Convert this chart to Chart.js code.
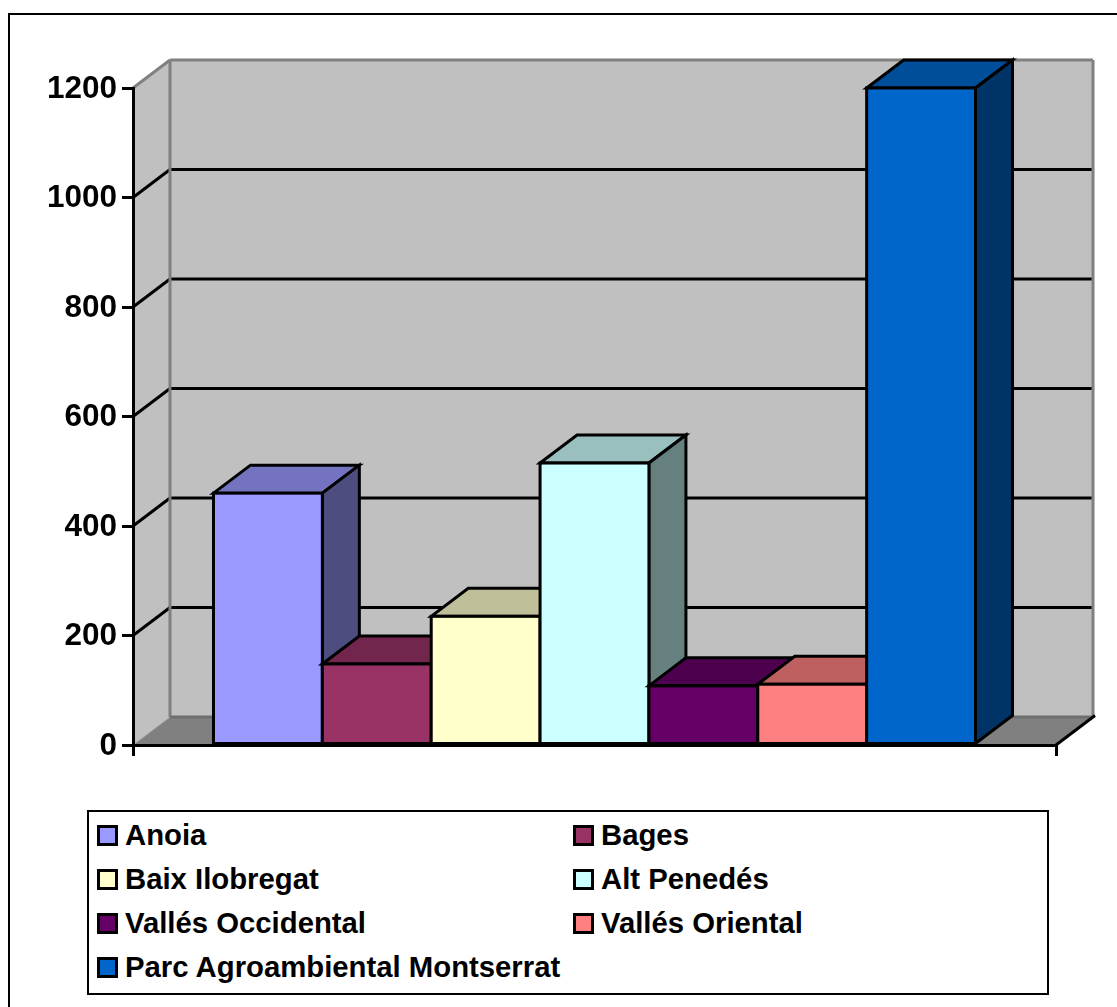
<!DOCTYPE html>
<html>
<head>
<meta charset="utf-8">
<title>Chart</title>
<script src="https://cdn.jsdelivr.net/npm/chart.js@4"></script>
<style>
    html, body { margin: 0; padding: 0; background: #fff; overflow: hidden; }
    #wrap { position: relative; width: 1117px; height: 1007px; font-family: "Liberation Sans", Arial, sans-serif; }
    #wrap canvas { position: absolute; left: 0; top: 0; }
    #frame { position: absolute; left: 8px; top: 13px; right: 0; bottom: 0; border-left: 2px solid #000; border-top: 2px solid #000; }
    #legend { position: absolute; left: 87px; top: 810px; width: 958px; height: 181px; border: 2.5px solid #000; background: #fff; }
    .item { position: absolute; display: flex; align-items: center; height: 44px; font-weight: bold; font-size: 29.3px; color: #000; white-space: nowrap; }
    .swatch { display: inline-block; box-sizing: border-box; width: 21px; height: 21px; border: 3px solid #000; margin-right: 7px; }
</style>
</head>
<body>
<div id="wrap">
    <div id="frame"></div>
    <canvas id="chart" width="1117" height="1007"></canvas>
    <div id="legend"></div>
</div>
<script>
const names = ['Anoia', 'Bages', 'Baix Ilobregat', 'Alt Penedés', 'Vallés Occidental', 'Vallés Oriental', 'Parc Agroambiental Montserrat'];
const values = [460, 148, 235, 515, 108, 111, 1200];
const colors = ['#9999FF', '#993366', '#FFFFCC', '#CCFFFF', '#660066', '#FF8080', '#0066CC'];

// depth of the fake 3D box, in pixels
const DX = 37;
const DY = 28;
const LINE = 3;

function shade(hex, f) {
    const n = parseInt(hex.slice(1), 16);
    const r = Math.round((n >> 16) * f);
    const g = Math.round(((n >> 8) & 255) * f);
    const b = Math.round((n & 255) * f);
    return `rgb(${r},${g},${b})`;
}

function poly(ctx, pts, fill, stroke, width) {
    ctx.beginPath();
    pts.forEach((p, i) => (i ? ctx.lineTo(p[0], p[1]) : ctx.moveTo(p[0], p[1])));
    ctx.closePath();
    if (fill) {
        ctx.fillStyle = fill;
        ctx.fill();
    }
    if (stroke) {
        ctx.strokeStyle = stroke;
        ctx.lineWidth = width;
        ctx.stroke();
    }
}

function line(ctx, x1, y1, x2, y2, color, width) {
    ctx.beginPath();
    ctx.moveTo(x1, y1);
    ctx.lineTo(x2, y2);
    ctx.strokeStyle = color;
    ctx.lineWidth = width;
    ctx.stroke();
}

const box3d = {
    id: 'box3d',
    // walls go under the axes
    beforeDraw(chart) {
        const ctx = chart.ctx;
        const { left, right, top, bottom } = chart.chartArea;
        const y = chart.scales.y;
        ctx.save();
        poly(ctx, [[left, top], [left + DX, top - DY], [left + DX, bottom - DY], [left, bottom]], '#C0C0C0');
        poly(ctx, [[left + DX, top - DY], [right + DX, top - DY], [right + DX, bottom - DY], [left + DX, bottom - DY]], '#C0C0C0');
        poly(ctx, [[left, bottom], [left + DX, bottom - DY], [right + DX, bottom - DY], [right, bottom]], '#808080');

        y.ticks.forEach(t => {
            const py = y.getPixelForValue(t.value);
            if (t.value === 0 || t.value === y.max) return;
            line(ctx, left, py, left + DX, py - DY, '#000', LINE);
            line(ctx, left + DX, py - DY, right + DX, py - DY, '#000', LINE);
        });

        line(ctx, left, top, left + DX, top - DY, '#808080', LINE);
        line(ctx, left + DX, top - DY, right + DX, top - DY, '#808080', LINE);
        line(ctx, left + DX, top - DY, left + DX, bottom - DY, '#808080', 3);
        line(ctx, right + DX, top - DY, right + DX, bottom - DY, '#808080', LINE);
        line(ctx, left + DX, bottom - DY, right + DX, bottom - DY, '#6E6E6E', LINE);
        line(ctx, left, bottom, left + DX, bottom - DY, '#A6A6A6', 1);
        line(ctx, right, bottom, right + DX + 2, bottom - DY - 1.5, '#000', LINE);
        ctx.restore();
    },
    // bars overlap each other, so paint them left to right instead of the default order
    beforeDatasetsDraw(chart) {
        const ctx = chart.ctx;
        ctx.save();
        ctx.lineJoin = 'miter';
        chart.getSortedVisibleDatasetMetas().forEach(meta => {
            const bar = meta.data[0];
            const color = colors[meta.index];
            const x1 = bar.x - bar.width / 2;
            const x2 = bar.x + bar.width / 2;
            const yTop = bar.y;
            const yBase = bar.base;
            poly(ctx, [[x1, yTop], [x1 + DX, yTop - DY], [x2 + DX, yTop - DY], [x2, yTop]], shade(color, 0.75), '#000', LINE);
            poly(ctx, [[x2, yTop], [x2 + DX, yTop - DY], [x2 + DX, yBase - DY], [x2, yBase]], shade(color, 0.5), '#000', LINE);
            bar.draw(ctx);
            ctx.strokeStyle = '#000';
            ctx.lineWidth = LINE;
            ctx.strokeRect(x1, yTop, bar.width, yBase - yTop);
        });
        ctx.restore();
        return false;
    }
};

new Chart(document.getElementById('chart'), {
    type: 'bar',
    data: {
        labels: [''],
        datasets: names.map((n, i) => ({
            label: n,
            data: [values[i]],
            backgroundColor: colors[i],
            borderWidth: 0,
            categoryPercentage: 0.8256,
            barPercentage: 1
        }))
    },
    options: {
        responsive: false,
        animation: false,
        layout: { padding: { left: 0, right: 61, top: 88, bottom: 0 } },
        plugins: {
            legend: { display: false },
            title: { display: false },
            tooltip: { enabled: false }
        },
        scales: {
            x: {
                grid: { drawOnChartArea: false, color: '#000', lineWidth: LINE, tickLength: 11 },
                border: { color: '#000', width: LINE },
                ticks: { display: false },
                afterFit(scale) { scale.height = 262; }
            },
            y: {
                min: 0,
                max: 1200,
                grid: { drawOnChartArea: false, color: '#000', lineWidth: LINE, tickLength: 11 },
                border: { color: '#000', width: LINE },
                ticks: {
                    stepSize: 200,
                    color: '#000',
                    padding: 5,
                    labelOffset: 1,
                    callback: v => String(v),
                    font: { family: '"Liberation Sans"', weight: 'bold', size: 31.5 }
                },
                afterFit(scale) { scale.width = 133; }
            }
        }
    },
    plugins: [box3d]
});

// legend is two columns in a box, the built in one can't line up like that
const legend = document.getElementById('legend');
names.forEach((n, i) => {
    const item = document.createElement('div');
    item.className = 'item';
    item.style.left = (i % 2 ? 484 : 8) + 'px';
    item.style.top = (1 + Math.floor(i / 2) * 44) + 'px';
    const sw = document.createElement('span');
    sw.className = 'swatch';
    sw.style.background = colors[i];
    item.appendChild(sw);
    item.appendChild(document.createTextNode(n));
    legend.appendChild(item);
});
</script>
</body>
</html>
